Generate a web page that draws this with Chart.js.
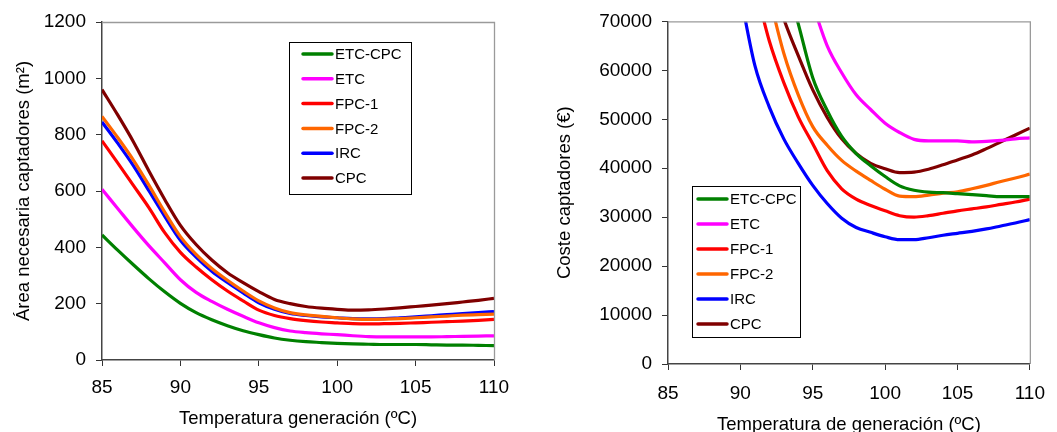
<!DOCTYPE html>
<html><head><meta charset="utf-8">
<script src="https://cdn.jsdelivr.net/npm/chart.js@4.4.0/dist/chart.umd.min.js"></script>
<style>
html,body{margin:0;padding:0;background:#fff;overflow:hidden;width:1057px;height:432px;}
#c1{position:absolute;left:0;top:0;}
#c2{position:absolute;left:530px;top:0;}
</style></head><body>
<canvas id="c1" width="530" height="432"></canvas>
<canvas id="c2" width="527" height="440"></canvas>
<script>
// ---- Data ----
const temperatures = [85,86,87,88,89,90,91,92,93,94,95,96,97,98,99,100,101,102,103,104,105,106,107,108,109,110];
const seriesNames = ['ETC-CPC','ETC','FPC-1','FPC-2','IRC','CPC'];
const seriesColors = ['#008000','#FF00FF','#FF0000','#FF6600','#0000FF','#800000'];

const xTicks = [85,90,95,100,105,110];
const areaTicks = [0,200,400,600,800,1000,1200];
const costTicks = [0,10000,20000,30000,40000,50000,60000,70000];

// Área necesaria captadores (m2)
const areaETCCPC = [444,390,338,288,242,201,168,143,122,104,90,78,70,65,62,59,57,56,55,55,55,54,53,53,52,51];
const areaETC    = [606,538,470,405,345,285,240,208,180,155,132,115,103,97,93,90,86,83,82,82,82,82,83,84,85,86];
const areaFPC1   = [778,700,620,540,452,382,330,285,245,210,177,158,147,140,135,132,129,128,129,130,132,134,136,138,141,144];
const areaFPC2   = [865,790,710,620,525,438,375,325,283,245,210,185,168,160,155,150,146,144,145,147,150,153,156,159,161,163];
const areaIRC    = [845,770,690,600,510,425,365,315,275,238,203,180,165,158,153,150,147,146,147,150,153,157,161,165,168,172];
const areaCPC    = [960,870,775,670,570,478,410,355,310,275,243,215,200,190,184,180,177,178,181,185,190,195,200,206,212,219];

// Coste captadores (€)
const costETCCPC = [null,null,null,null,null,null,null,null,80000,69500,58500,51800,46500,43000,40500,38300,36400,35500,35100,35000,34800,34600,34400,34200,34200,34200];
const costETC    = [null,null,null,null,null,null,null,null,null,null,73500,65000,59500,55000,52000,49200,47300,45900,45600,45600,45600,45400,45500,45700,46000,46200];
const costFPC1   = [null,null,null,null,null,null,77500,66000,57500,50500,45000,39500,35800,33700,32400,31300,30300,30000,30300,30800,31300,31700,32100,32600,33100,33700];
const costFPC2   = [null,null,null,null,null,null,null,75000,63500,55000,48500,44700,41600,39400,37500,35700,34300,34200,34500,34900,35200,35800,36500,37300,38000,38800];
const costIRC    = [null,null,null,null,null,75500,61000,52500,46000,41000,36500,32800,29800,27900,26900,26000,25400,25400,25800,26300,26700,27100,27600,28200,28800,29500];
const costCPC    = [null,null,null,null,null,null,null,80000,70500,63000,56000,50400,46000,43000,41000,39900,39100,39200,39800,40700,41700,42700,44000,45400,46800,48200];

const areaSeries = [areaETCCPC, areaETC, areaFPC1, areaFPC2, areaIRC, areaCPC];
const costSeries = [costETCCPC, costETC, costFPC1, costFPC2, costIRC, costCPC];

// ---- Rendering ----
const FONT = '"Liberation Sans", Arial, Helvetica, sans-serif';
Chart.defaults.font.family = FONT;
Chart.defaults.color = '#000';

function makeDatasets(series){
  return series.map((arr,i)=>({
    label: seriesNames[i],
    data: temperatures.map((t,j)=>({x:t, y:arr[j]})),
    borderColor: seriesColors[i],
    backgroundColor: seriesColors[i],
    borderWidth: 3.2,
    pointRadius: 0,
    cubicInterpolationMode: 'monotone',
    fill: false
  }));
}

const frameLegend = {
  id: 'frameLegend',
  afterDatasetsDraw(chart, args, o){
    const ctx = chart.ctx, a = chart.chartArea;
    ctx.save();
    ctx.strokeStyle = '#9a9a9a'; ctx.lineWidth = 1.3;
    ctx.beginPath();
    ctx.moveTo(a.left, a.top + 0.5);
    ctx.lineTo(a.right + 0.5, a.top + 0.5);
    ctx.lineTo(a.right + 0.5, a.bottom);
    ctx.stroke();
    ctx.fillStyle = '#fff';
    ctx.fillRect(o.x, o.y, o.w, o.h);
    ctx.strokeStyle = '#000'; ctx.lineWidth = 1;
    ctx.strokeRect(o.x + 0.5, o.y + 0.5, o.w, o.h);
    ctx.font = '15px ' + FONT;
    ctx.textBaseline = 'middle'; ctx.textAlign = 'left';
    chart.data.datasets.forEach((ds,i)=>{
      const y = o.row0 + i*o.gap;
      ctx.strokeStyle = ds.borderColor; ctx.lineWidth = 3.5; ctx.lineCap = 'round';
      ctx.beginPath(); ctx.moveTo(o.lx0, y); ctx.lineTo(o.lx1, y); ctx.stroke();
      ctx.fillStyle = '#000';
      ctx.fillText(ds.label, o.tx, y + 1);
    });
    ctx.restore();
  }
};

function makeChart(id, series, cfg){
  return new Chart(document.getElementById(id), {
    type: 'line',
    data: { datasets: makeDatasets(series) },
    plugins: [frameLegend],
    options: {
      responsive: false, animation: false, devicePixelRatio: 1,
      layout: { padding: { top: cfg.padTop, right: cfg.padRight, left: 0, bottom: 0 } },
      plugins: { legend: { display: false }, tooltip: { enabled: false }, frameLegend: cfg.legend },
      scales: {
        x: {
          type: 'linear', min: 85, max: 110,
          afterBuildTicks: s => { s.ticks = xTicks.map(v=>({value:v})); },
          afterFit: s => { s.height = cfg.xHeight; },
          ticks: { font: { size: 19 }, padding: cfg.xTickPad, color: '#000', callback: v => String(v), maxRotation: 0 },
          grid: { drawOnChartArea: false, drawTicks: true, tickLength: 6, tickColor: '#333' },
          border: { color: '#444', width: 1.5 },
          title: { display: true, text: cfg.xTitle, font: { size: 18.5 }, color: '#000', padding: { top: 0, bottom: cfg.xTitlePad } }
        },
        y: {
          type: 'linear', min: 0, max: cfg.yMax,
          afterBuildTicks: s => { s.ticks = cfg.yTicks.map(v=>({value:v})); },
          afterFit: s => { s.width = cfg.yWidth; },
          ticks: { font: { size: 19 }, padding: 10, color: '#000', callback: v => String(v) },
          grid: { drawOnChartArea: false, drawTicks: true, tickLength: 6, tickColor: '#333' },
          border: { color: '#444', width: 1.5 },
          title: { display: true, text: cfg.yTitle, font: { size: 18.5 }, color: '#000', padding: { top: cfg.yTitlePad, bottom: 0 } }
        }
      }
    }
  });
}

makeChart('c1', areaSeries, {
  padTop: 22, padRight: 36, xHeight: 72, yWidth: 102, yMax: 1200, yTicks: areaTicks,
  xTickPad: 10, xTitlePad: 2, yTitlePad: 13,
  xTitle: 'Temperatura generación (ºC)', yTitle: 'Área necesaria captadores (m²)',
  legend: { x: 289, y: 42, w: 122, h: 152, row0: 54, gap: 24.8, lx0: 303, lx1: 332, tx: 335 }
});

makeChart('c2', costSeries, {
  padTop: 21, padRight: 21, xHeight: 76, yWidth: 138, yMax: 70000, yTicks: costTicks,
  xTickPad: 12, xTitlePad: 4, yTitlePad: 24,
  xTitle: 'Temperatura de generación (ºC)', yTitle: 'Coste captadores (€)',
  legend: { x: 162, y: 186, w: 108, h: 151, row0: 199, gap: 25, lx0: 168, lx1: 197, tx: 200 }
});
</script>
</body></html>
